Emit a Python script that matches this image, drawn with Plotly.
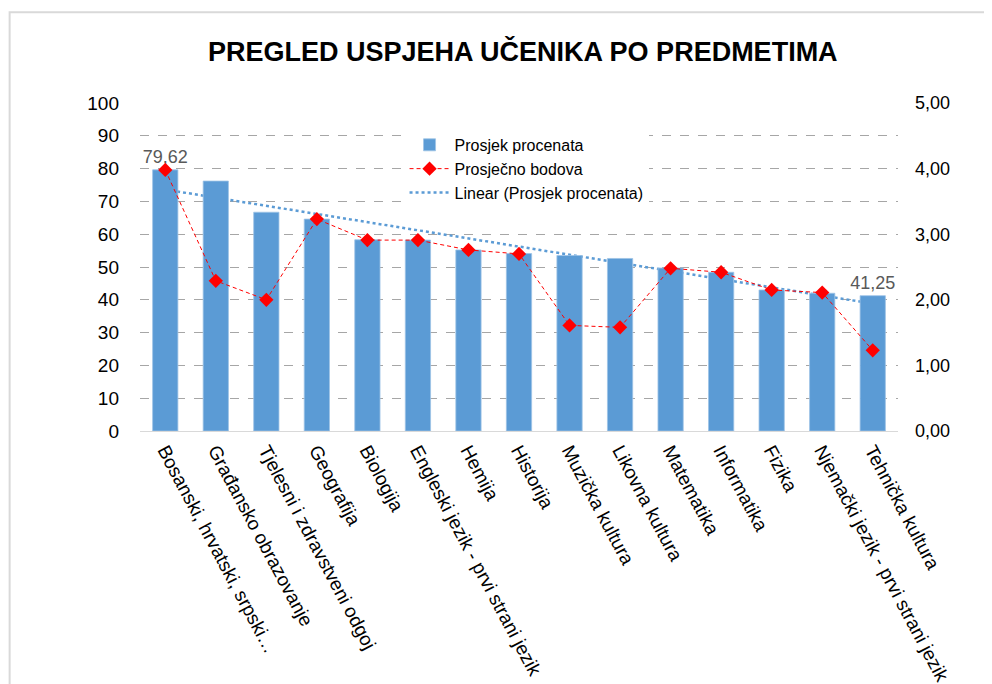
import numpy as np
import plotly.graph_objects as go

categories = [
    "Bosanski, hrvatski, srpski…",
    "Građansko obrazovanje",
    "Tjelesni i zdravstveni odgoj",
    "Geografija",
    "Biologija",
    "Engleski jezik - prvi strani jezik",
    "Hemija",
    "Historija",
    "Muzička kultura",
    "Likovna kultura",
    "Matematika",
    "Informatika",
    "Fizika",
    "Njemački jezik - prvi strani jezik",
    "Tehnička kultura",
]
prosjek_procenata = [79.62, 76.2, 66.7, 64.6, 58.3, 58.2, 55.2, 54.1, 53.5, 52.6, 49.7, 48.4, 43.0, 42.0, 41.25]
prosjecno_bodova = [3.98, 2.29, 2.00, 3.23, 2.91, 2.91, 2.76, 2.70, 1.61, 1.58, 2.48, 2.42, 2.15, 2.11, 1.23]
bar_labels = ["79,62"] + [""] * 13 + ["41,25"]

# Linear trendline of the bar series (as Excel computes it)
xi = np.arange(1, len(prosjek_procenata) + 1)
slope, intercept = np.polyfit(xi, prosjek_procenata, 1)
trend = slope * xi + intercept

BLUE = "#5B9BD5"
FONT = "Liberation Sans, Arial, sans-serif"

fig = go.Figure()

fig.add_trace(go.Scatter(
    x=categories, y=trend, mode="lines", name="Linear (Prosjek procenata)",
    line=dict(color=BLUE, width=2.5, dash="dot"), yaxis="y", legendrank=3,
))
fig.add_trace(go.Bar(
    x=categories, y=prosjek_procenata, name="Prosjek procenata",
    marker=dict(color=BLUE, line=dict(color="#9DC3E6", width=0.8)),
    text=bar_labels, textposition="outside", cliponaxis=False,
    constraintext="none",
    textfont=dict(family=FONT, size=18, color="#595959"),
    yaxis="y2", legendrank=1,
))
fig.add_trace(go.Scatter(
    x=categories, y=prosjecno_bodova, mode="lines+markers", name="Prosječno bodova",
    line=dict(color="#FF0000", width=1, dash="4px,3px"),
    marker=dict(symbol="diamond", size=11, color="#FF0000"),
    yaxis="y3", legendrank=2,
))

fig.update_layout(
    width=992, height=684,
    margin=dict(l=132, r=102, t=95, b=261, autoexpand=False),
    paper_bgcolor="white", plot_bgcolor="white",
    separators=",.",
    font=dict(family=FONT, color="#000000"),
    title=dict(text="<b>PREGLED USPJEHA UČENIKA PO PREDMETIMA</b>",
               x=0.519, xref="container", xanchor="center",
               y=0.936, yref="container", yanchor="middle",
               font=dict(family=FONT, size=27, color="#000000")),
    bargap=0.5,
    showlegend=True,
    legend=dict(x=0.349, y=0.924, xanchor="left", yanchor="top",
                bgcolor="white", font=dict(family=FONT, size=16, color="#000000"),
                tracegroupgap=0, itemwidth=40),
    xaxis=dict(type="category", range=[-0.5, 14.5], tickangle=62, showgrid=False,
               automargin=False,
               showline=True, linecolor="#D9D9D9", linewidth=1, ticks="",
               tickfont=dict(family=FONT, size=19, color="#000000")),
    yaxis=dict(range=[0, 100], dtick=10, showgrid=True, gridcolor="#A6A6A6",
               griddash="dash", gridwidth=1, zeroline=False, ticks="",
               automargin=False, ticklabelstandoff=20,
               tickfont=dict(family=FONT, size=19, color="#000000")),
    yaxis2=dict(range=[0, 100], overlaying="y", showgrid=False, showticklabels=False,
                zeroline=False, automargin=False),
    yaxis3=dict(range=[0, 5], dtick=1, overlaying="y", side="right", showgrid=False,
                zeroline=False, tickformat=".2f", ticks="", automargin=False,
                ticklabelstandoff=16,
                tickfont=dict(family=FONT, size=18, color="#000000")),
    shapes=[dict(type="rect", xref="paper", yref="paper",
                 x0=-0.172, x1=1.2, y0=-1.0, y1=1.277,
                 line=dict(color="#D9D9D9", width=2), fillcolor="rgba(0,0,0,0)",
                 layer="below")],
)

fig.write_html("out.html")
